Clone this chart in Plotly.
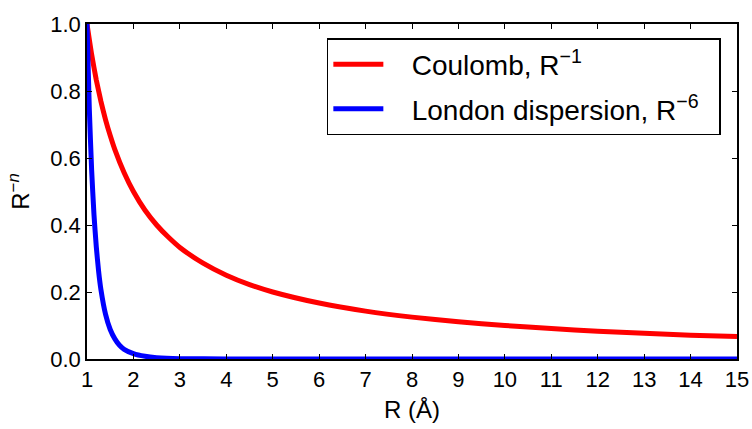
import plotly.graph_objects as go

# Coulomb R^-1 values
r_coulomb = [1, 1.1, 1.2, 1.3, 1.4, 1.5, 1.6, 1.8, 2, 2.25, 2.5, 2.75, 3, 3.5, 4, 4.5, 5,
             6, 7, 8, 9, 10, 11, 12, 13, 14, 15]
coulomb = [1.0, 0.909, 0.833, 0.769, 0.714, 0.667, 0.625, 0.556, 0.5, 0.444, 0.4, 0.364,
           0.333, 0.286, 0.25, 0.222, 0.2, 0.167, 0.143, 0.125, 0.111, 0.1, 0.091, 0.083,
           0.077, 0.071, 0.067]

# London dispersion R^-6 values
r_london = [1, 1.05, 1.1, 1.15, 1.2, 1.25, 1.3, 1.4, 1.5, 1.6, 1.7, 1.8, 2.0, 2.25, 2.5,
            3, 4, 6, 10, 15]
london = [1.0, 0.746, 0.564, 0.432, 0.335, 0.262, 0.207, 0.133, 0.088, 0.060, 0.041,
          0.029, 0.016, 0.008, 0.004, 0.001, 0.0002, 0.0, 0.0, 0.0]

x_ticks = list(range(1, 16))
y_ticks = [0.0, 0.2, 0.4, 0.6, 0.8, 1.0]
y_tick_text = ["0.0", "0.2", "0.4", "0.6", "0.8", "1.0"]

FONT = "Liberation Sans, Arial, sans-serif"
NB = "\u00a0"

fig = go.Figure()
fig.add_trace(go.Scatter(x=r_coulomb, y=coulomb, mode="lines",
                         line=dict(color="#ff0000", width=5, shape="spline", smoothing=0.5),
                         legendgroup="c",
                         name=NB * 3 + "Coulomb, R<sup>−1</sup>" + NB * 2))
fig.add_trace(go.Scatter(x=r_london, y=london, mode="lines",
                         line=dict(color="#0000ff", width=5, shape="spline", smoothing=0.5),
                         legendgroup="l",
                         name=NB * 3 + "London dispersion, R<sup>−6</sup>" + NB * 2))

axis_common = dict(showline=True, linecolor="black", linewidth=1.5, mirror="allticks",
                   ticks="inside", ticklen=5, tickwidth=1, tickcolor="black",
                   showgrid=False, zeroline=False, automargin=False,
                   tickfont=dict(family=FONT, size=22, color="black"))

fig.update_xaxes(range=[1, 15], tickvals=x_ticks, ticktext=[str(v) for v in x_ticks],
                 title=dict(text="R (Å)", font=dict(family=FONT, size=24, color="black"),
                            standoff=10),
                 **axis_common)
fig.update_yaxes(range=[0, 1], tickvals=y_ticks, ticktext=y_tick_text,
                 title=dict(text="R<sup>−<i>n</i></sup>", font=dict(family=FONT, size=24, color="black"),
                            standoff=14),
                 **axis_common)

fig.update_layout(
    width=752, height=429,
    margin=dict(l=87, r=15, t=24, b=70, autoexpand=False),
    plot_bgcolor="white", paper_bgcolor="white",
    font=dict(family=FONT, color="black"),
    legend=dict(x=0.369, y=0.958, xanchor="left", yanchor="top",
                bgcolor="white", bordercolor="black", borderwidth=1.5,
                font=dict(family=FONT, size=28, color="black"),
                itemwidth=50, tracegroupgap=5),
)

fig.write_html("out.html")
